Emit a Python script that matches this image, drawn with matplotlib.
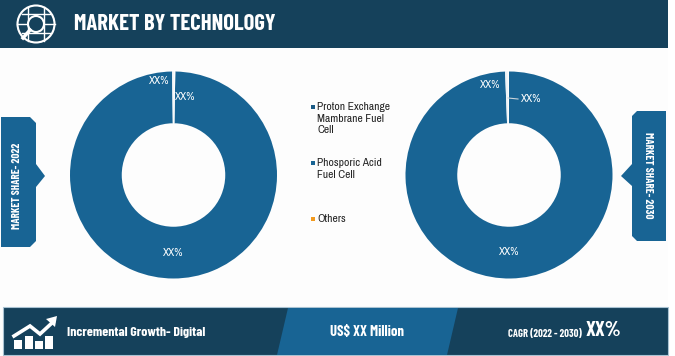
import matplotlib
matplotlib.use('Agg')
import matplotlib.pyplot as plt
from matplotlib.patches import Polygon, Rectangle, Circle

# colours
DARK = '#15415b'
BLUE = '#186494'
ORANGE = '#f29a1f'
WHITE = '#ffffff'
NARROW = ['Barlow Condensed', 'DejaVu Sans']
BODY = ['Archivo Narrow', 'DejaVu Sans']

title = 'MARKET BY TECHNOLOGY'
categories = ['Proton Exchange\nMambrane Fuel\nCell', 'Phosporic Acid\nFuel Cell', 'Others']
legend_colors = ['#1a5a85', BLUE, ORANGE]
share_2022 = [99.5, 0.25, 0.25]
share_2030 = [99.4, 0.4, 0.2]
footer_left = 'Incremental Growth- Digital'
footer_mid = 'US$ XX Million'
footer_cagr = 'CAGR (2022 - 2030)'
footer_xx = 'XX%'

W, H = 675, 356
fig = plt.figure(figsize=(W / 100, H / 100), dpi=100, facecolor='#fdfdfd')
# overlay axes in pixel units, y going down, kept above the donuts
bg = fig.add_axes([0, 0, 1, 1])
bg.set_xlim(0, W)
bg.set_ylim(H, 0)
bg.axis('off')
bg.set_zorder(5)
bg.add_patch(Rectangle((668, 0), 7, H, fc=WHITE, ec='none'))


def donut(cx, cy, r, values, start):
    ax = fig.add_axes([(cx - r) / W, 1 - (cy + r) / H, 2 * r / W, 2 * r / H])
    ax.pie(values, startangle=start, counterclock=False,
           colors=[BLUE, '#eef3f7', '#fdfdfd'], radius=1.0,
           wedgeprops=dict(width=0.5, edgecolor='none'))
    ax.set_xlim(-1, 1)
    ax.set_ylim(-1, 1)
    return ax


donut(173.5, 175, 103.5, share_2022, 89)
donut(509, 175, 103.5, share_2030, 90)

# header
bg.add_patch(Rectangle((0, 0), 668, 48, fc=DARK, ec='none'))
bg.text(74, 24, title, color=WHITE, fontsize=16.3, fontweight='bold',
        family=NARROW, va='center', ha='left')
# globe icon
bg.add_patch(Circle((36, 24), 18.5, fc='none', ec=WHITE, lw=1.5))
for y in (14, 33):
    bg.plot([22, 50], [y, y], color=WHITE, lw=1.0)
bg.plot([17, 55], [24, 24], color=WHITE, lw=1.0)
for x in (28, 44):
    bg.plot([x, x], [7, 41], color=WHITE, lw=1.0)
bg.add_patch(Circle((36, 24), 8, fc=DARK, ec=WHITE, lw=1.5, zorder=3))
bg.plot([30, 23], [30, 38], color=WHITE, lw=2.5, zorder=3)

# side tags
bg.add_patch(Polygon([(1, 117), (30, 117), (36, 123), (36, 164), (45, 176), (36, 187),
                      (36, 241), (30, 247), (1, 247)], fc=BLUE, ec='none'))
bg.text(17, 186, 'MARKET SHARE- 2022', color=WHITE, fontsize=8.1, fontweight='bold',
        family=NARROW, rotation=90, ha='center', va='center')
bg.add_patch(Polygon([(666, 111), (637, 111), (632, 116), (632, 164), (621, 176), (632, 186),
                      (632, 236), (637, 241), (666, 241)], fc=BLUE, ec='none'))
bg.text(648, 175, 'MARKET SHARE- 2030', color=WHITE, fontsize=8.1, fontweight='bold',
        family=NARROW, rotation=270, ha='center', va='center')

# slice labels
for x, y in [(159, 81), (185, 97), (173, 253), (490, 85), (531, 99), (509, 252)]:
    bg.text(x, y, 'XX%', color=WHITE, fontsize=8, family=BODY, ha='center', va='center')
bg.plot([508, 518], [98, 99], color='#c9d3da', lw=0.8)

# legend
for label, color, y, sq in zip(categories, legend_colors, (118.5, 169, 219), (107, 163, 219)):
    bg.add_patch(Rectangle((311, sq - 2), 4, 4, fc=color, ec='none'))
    bg.text(317, y, label, color='#222222', fontsize=8.3, family=BODY,
            ha='left', va='center', linespacing=1.18)

# footer
bg.add_patch(Rectangle((3, 307), 665, 48, fc=DARK, ec='#a9c3d3', lw=0.8))
bg.add_patch(Polygon([(288, 308), (458, 308), (447, 355), (277, 355)], fc=BLUE, ec='none'))
bg.text(67, 332, footer_left, color=WHITE, fontsize=10, fontweight='bold', family=NARROW,
        ha='left', va='center')
bg.text(367, 332, footer_mid, color=WHITE, fontsize=10.6, fontweight='bold', family=NARROW,
        ha='center', va='center')
bg.text(508, 334, footer_cagr, color=WHITE, fontsize=7.6, fontweight='bold', family=NARROW,
        ha='left', va='center')
bg.text(585, 331, footer_xx, color=WHITE, fontsize=15, fontweight='bold', family=NARROW,
        ha='left', va='center')

# growth icon in the footer
for x, top in [(14, 340), (25, 336), (35, 341), (45, 336)]:
    bg.add_patch(Rectangle((x, top), 8, 349 - top, fc=WHITE, ec='none'))
bg.plot([14, 30, 40, 53], [336, 326, 334, 322], color=WHITE, lw=2.6, solid_joinstyle='miter')
bg.add_patch(Polygon([(57, 316), (46, 319), (55, 327)], fc=WHITE, ec='none'))

fig.savefig('out.png', dpi=100, facecolor=fig.get_facecolor())
